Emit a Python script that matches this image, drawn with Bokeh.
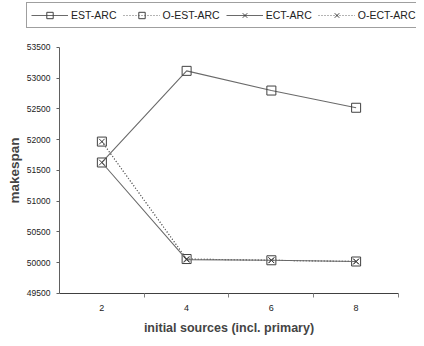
from bokeh.plotting import figure
from bokeh.models import FixedTicker, Legend, LegendItem, Range1d
from bokeh.embed import file_html
from bokeh.resources import INLINE

sources = [2, 4, 6, 8]
tick_labels = ["2", "4", "6", "8"]
est_arc = [51630, 53120, 52800, 52520]
o_est_arc = [51970, 50060, 50040, 50020]
ect_arc = [51630, 50050, 50040, 50020]
o_ect_arc = [51970, 50060, 50040, 50020]
y_ticks = [49500, 50000, 50500, 51000, 51500, 52000, 52500, 53000, 53500]
series_names = ["EST-ARC", "O-EST-ARC", "ECT-ARC", "O-ECT-ARC"]

FONT = "Liberation Sans"
LINE = "#6a6a6a"
MARK = "#404040"

W, H = 416, 338
# frame fills the whole figure; axes are pinned inside it
p = figure(width=W, height=H, output_backend="svg", toolbar_location=None,
           x_range=Range1d(-0.3923, 9.4248), y_range=Range1d(48768, 54264),
           min_border_left=0, min_border_right=0, min_border_top=0, min_border_bottom=0)
p.background_fill_color = "white"
p.border_fill_color = "white"
p.outline_line_color = None
p.xgrid.visible = False
p.ygrid.visible = False

styles = [
    dict(dash="solid", marker="square", size=9),
    dict(dash="1 2", marker="square", size=9),
    dict(dash="solid", marker="x", size=8),
    dict(dash="1 2", marker="x", size=8),
]
series = [est_arc, o_est_arc, ect_arc, o_ect_arc]

items = []
for name, vals, st in zip(series_names, series, styles):
    rl = p.line(sources, vals, line_color=LINE, line_width=1.1, line_dash=st["dash"])
    rm = p.scatter(sources, vals, marker=st["marker"], size=st["size"], fill_color=None,
                   line_color=MARK, line_width=1)
    items.append(LegendItem(label=name, renderers=[rl, rm]))

xa = p.xaxis[0]
xa.fixed_location = 49500
xa.bounds = (1, 9)
xa.ticker = FixedTicker(ticks=sources, minor_ticks=[3, 5, 7, 9])
xa.major_label_overrides = {s: t for s, t in zip(sources, tick_labels)}
xa.major_tick_out = 0
xa.major_tick_in = 0
xa.minor_tick_out = 4
xa.minor_tick_in = 0
xa.major_label_standoff = 8
xa.axis_label = "initial sources (incl. primary)"
xa.axis_label_text_font = FONT
xa.axis_label_text_font_style = "bold"
xa.axis_label_text_font_size = "12.5px"
xa.axis_label_standoff = 6
xa.major_label_text_font = FONT
xa.major_label_text_font_size = "9px"
xa.major_label_text_color = "#222222"
xa.axis_line_color = "#404040"
xa.minor_tick_line_color = "#808080"

ya = p.yaxis[0]
ya.fixed_location = 1
ya.bounds = (49500, 53500)
ya.ticker = FixedTicker(ticks=y_ticks, minor_ticks=[])
ya.major_tick_out = 3
ya.major_tick_in = 0
ya.major_label_standoff = 6
ya.axis_label = "makespan"
ya.axis_label_text_font = FONT
ya.axis_label_text_font_style = "bold"
ya.axis_label_text_font_size = "13.5px"
ya.axis_label_standoff = 2
ya.major_label_text_font = FONT
ya.major_label_text_font_size = "8.5px"
ya.major_label_text_color = "#222222"
ya.axis_line_color = "#606060"
ya.major_tick_line_color = "#606060"

legend = Legend(items=items, orientation="horizontal", location=(26, 310))
legend.label_text_font = FONT
legend.label_text_font_size = "10.5px"
legend.label_text_color = "#222222"
legend.glyph_width = 37
legend.glyph_height = 16
legend.label_standoff = 3
legend.spacing = 6
legend.padding = 4
legend.margin = 0
legend.border_line_color = "#404040"
legend.border_line_width = 1
legend.background_fill_color = "white"
legend.background_fill_alpha = 1
legend.label_height = 16
p.add_layout(legend, "center")

open("out.html", "w").write(file_html(p, INLINE))
